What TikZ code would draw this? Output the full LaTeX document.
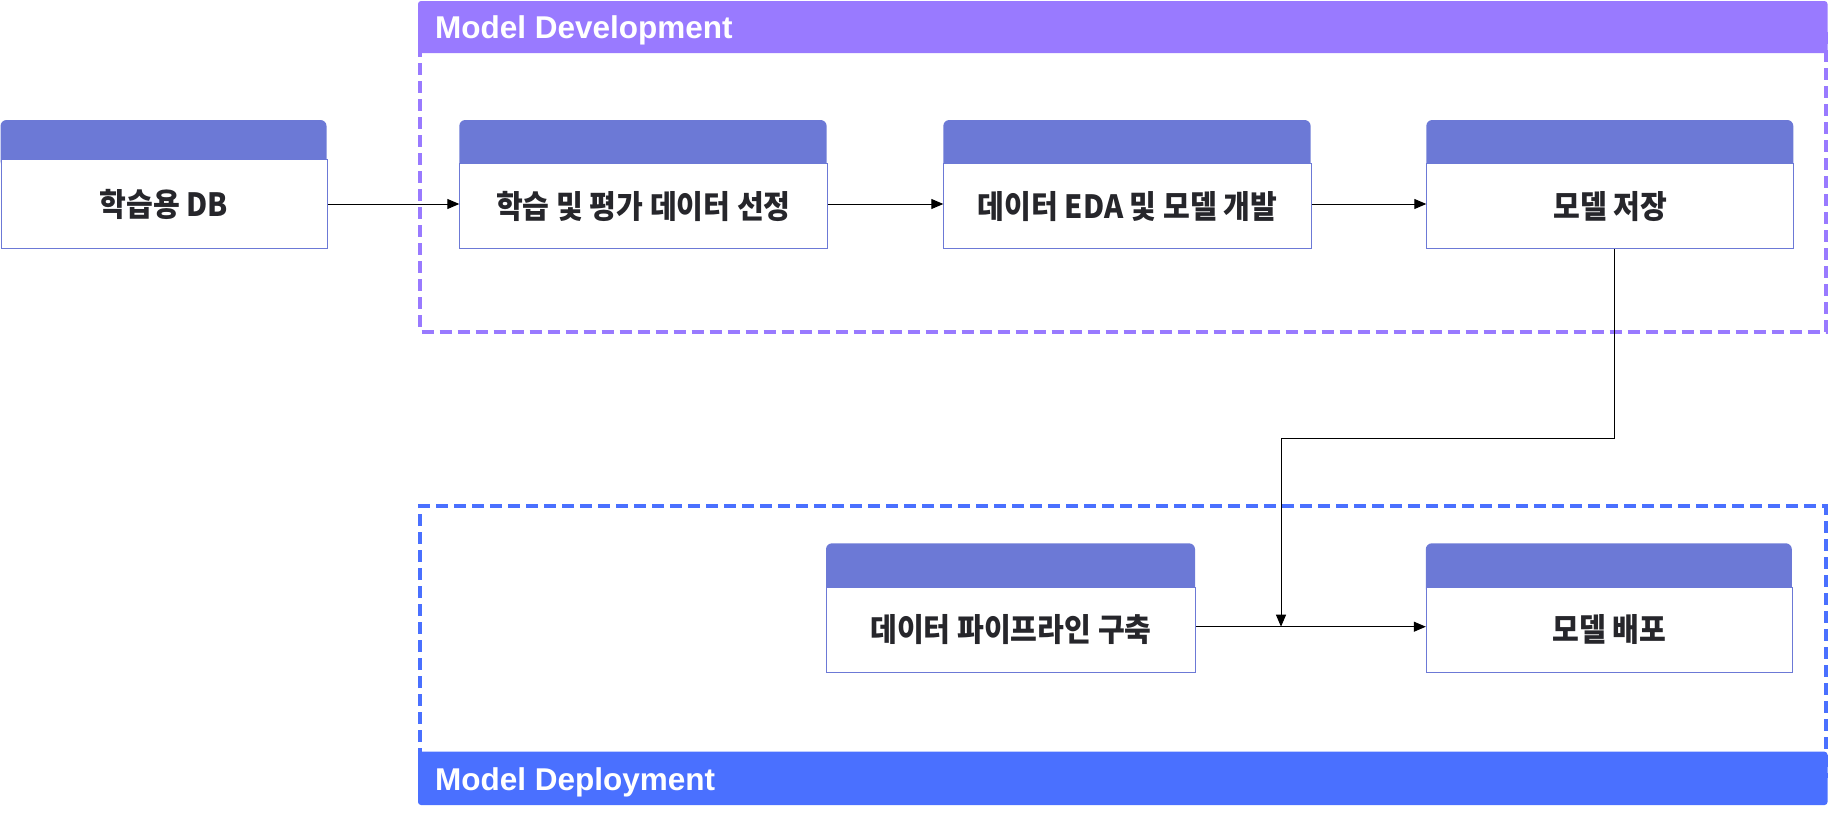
\documentclass[tikz,border=0pt]{standalone}
\usepackage{fontspec}
\setmainfont{Liberation Sans}
\newfontfamily\krfont{Noto Sans CJK KR}[FakeStretch=0.91]
\usetikzlibrary{arrows.meta,calc}

\definecolor{devpurple}{HTML}{997AFF}
\definecolor{depblue}{HTML}{4A70FF}
\definecolor{cardhead}{HTML}{6C79D6}
\definecolor{cardtext}{HTML}{26262B}

\tikzset{
  cardbody/.style={draw=cardhead, line width=1pt, fill=white, inner sep=0pt,
    text=cardtext, anchor=north west,
    font=\krfont\bfseries\fontsize{32}{36}\selectfont},
  cardtop/.style={fill=cardhead, rounded corners=6pt},
  groupframe/.style={line width=4pt, dash pattern=on 12pt off 6pt},
  grouptitle/.style={text=white, inner sep=0pt, anchor=base west,
    font=\bfseries\fontsize{31.5}{36}\selectfont},
  flow/.style={draw=black, line width=1pt, -{Triangle[length=12pt,width=10pt]}},
}

% card: name, left x, top y, width, header height, body height, label
\newcommand\flowcard[7]{%
  \fill[cardtop] (#2,#3) rectangle (#2+#4,#3+#5+8);
  \node[cardbody, minimum width=#4pt, minimum height=#6pt] (#1) at (#2,#3+#5) {#7};
}

\begin{document}
\begin{tikzpicture}[x=1pt,y=-1pt]
  \useasboundingbox (0,0) rectangle (1828,814);

  % Model Development group
  \draw[devpurple, groupframe] (420,27) -- (420,331.5) -- (1825.5,331.5) -- (1825.5,27);
  \fill[devpurple, rounded corners=3pt] (418,1) rectangle (1827.5,53);
  \node[grouptitle] (devtitle) at (435,38) {Model Development};

  % Model Deployment group
  \draw[depblue, groupframe] (420,778) -- (420,506.3) -- (1825.5,506.3) -- (1825.5,778);
  \fill[depblue, rounded corners=3pt] (418,751.7) rectangle (1827.5,805);
  \node[grouptitle] (deptitle) at (435,790) {Model Deployment};

  % cards
  \flowcard{db}{0.5}{120}{326}{39}{89}{학습용 DB}
  \flowcard{select}{459.3}{120}{367.3}{43.3}{85}{학습 및 평가 데이터 선정}
  \flowcard{eda}{943.3}{120}{367.3}{43.3}{85}{데이터 EDA 및 모델 개발}
  \flowcard{save}{1426.3}{120}{367}{43.3}{85}{모델 저장}
  \flowcard{pipe}{826}{543.3}{369}{43.4}{85}{데이터 파이프라인 구축}
  \flowcard{deploy}{1425.8}{543.3}{366}{43.4}{85}{모델 배포}

  % connectors, top row on one horizontal line
  \draw[flow] (db.east) -- (db.east -| select.west);
  \draw[flow] (db.east -| select.east) -- (db.east -| eda.west);
  \draw[flow] (db.east -| eda.east) -- (db.east -| save.west);
  % bottom row and the elbow from the saved model
  \path ([yshift=3pt]pipe.east) coordinate (pipeout);
  \draw[flow] (pipeout) -- (pipeout -| deploy.west);
  \path (pipeout) ++(85,0) coordinate (join);
  \coordinate (bend) at ($(join)+(0,-188)$);
  \draw[flow] ([xshift=4.5pt]save.south) |- (bend) -- (join);
\end{tikzpicture}
\end{document}
